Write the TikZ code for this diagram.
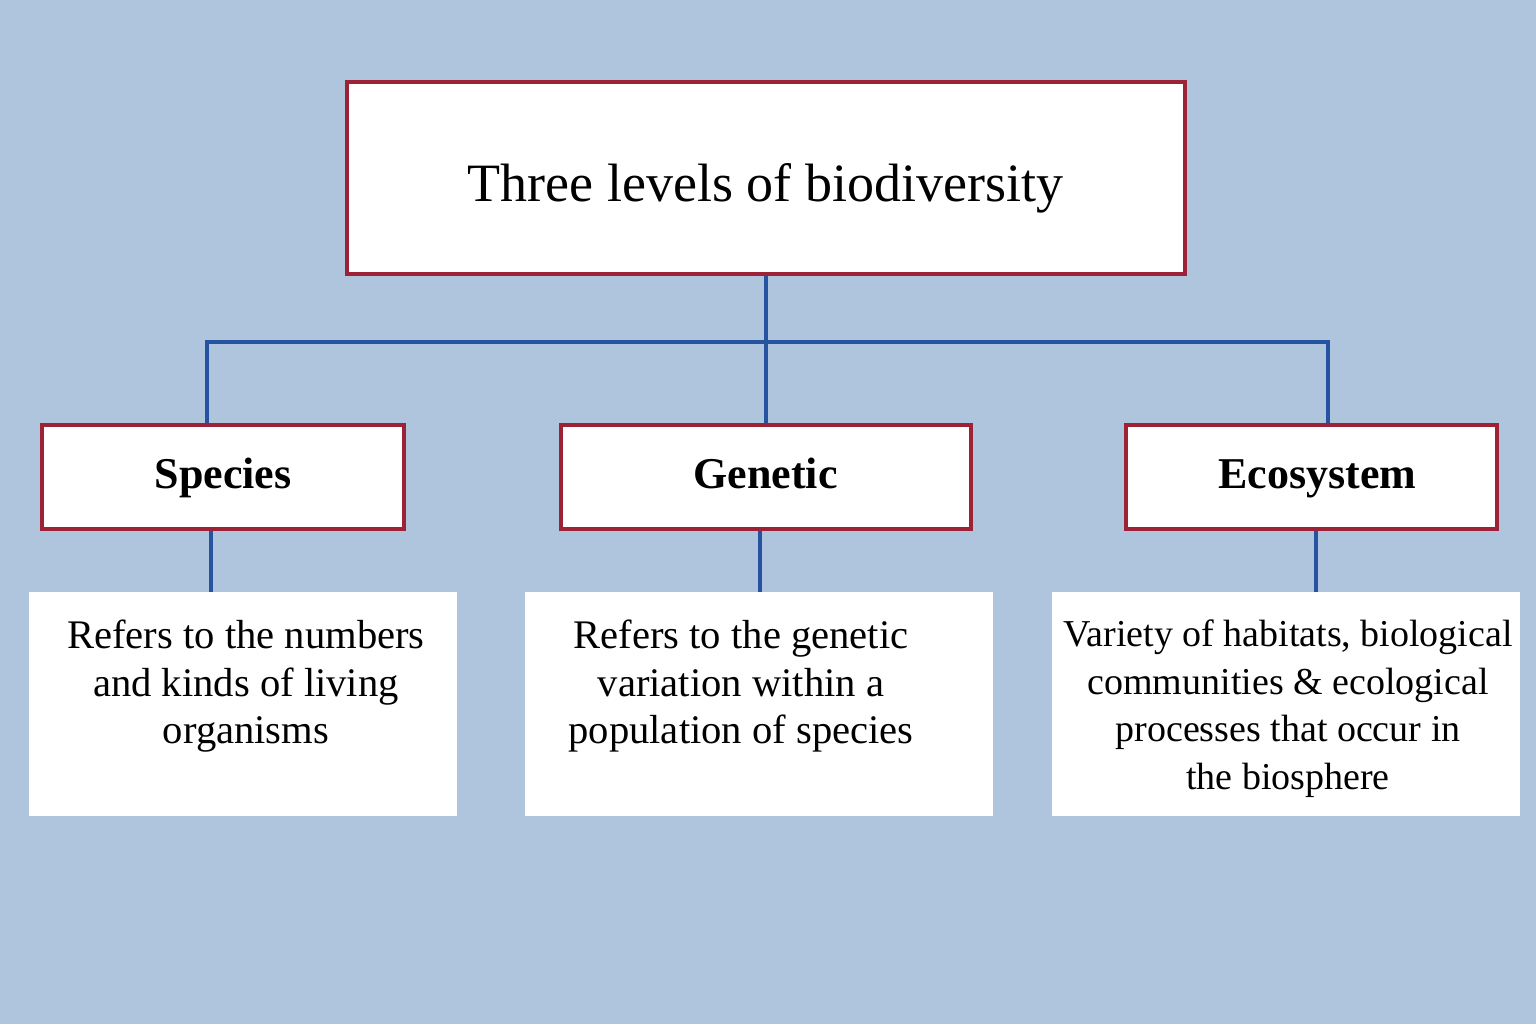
\documentclass[tikz,border=0pt]{standalone}
\usepackage{fontspec}
\setmainfont{Liberation Serif}
\usetikzlibrary{positioning, calc, backgrounds}

\definecolor{bgblue}{HTML}{AFC4DD}
\definecolor{framered}{HTML}{9E2236}
\definecolor{branchblue}{HTML}{2553A0}

\tikzset{
  titlebox/.style = {draw=framered, line width=2pt, fill=white, minimum height=96pt, text height=23pt, text depth=0pt, font=\fontsize{27}{32}\selectfont},
  levelbox/.style = {draw=framered, line width=2pt, fill=white, minimum height=52pt, text height=16pt, text depth=5pt, font=\fontsize{22}{26}\selectfont\bfseries},
  infobox/.style = {fill=white, inner xsep=2pt, inner ysep=14pt, minimum height=112pt, font=\fontsize{20.3}{23.75}\selectfont},
  branch/.style = {draw=branchblue, line width=2pt}
}
% #1 = sideways shift of the lines, #2 = width, #3 = text
\newcommand{\infotext}[3][0pt]{\parbox[t][84pt][t]{#2}{\centering
  \advance\leftskip by #1\advance\rightskip by -#1 #3}}

\begin{document}
\begin{tikzpicture}[x=0.5pt, y=-0.5pt]
  \useasboundingbox (0,0) rectangle (1536,1024);

  % top box
  \node[titlebox, minimum width=419pt] (title) at (765.5,178) {Three levels of biodiversity};

  % the three levels
  \node[levelbox, minimum width=181pt] (species) at (223,477) {Species};
  \node[levelbox, minimum width=205pt] (genetic) at (765.5,477) {Genetic};
  \node[levelbox, minimum width=185.5pt] (ecosystem) at (1311.5,477) {\hspace*{6pt}Ecosystem};

  % descriptions
  \node[infobox, minimum width=214pt] (speciesinfo) at (243,704)
    {\infotext[1.5pt]{210pt}{Refers to the numbers\\ and kinds of living\\ organisms}};
  \node[infobox, minimum width=234pt] (geneticinfo) at (759,704)
    {\infotext[-9pt]{230pt}{Refers to the genetic\\ variation within a\\ population of species}};
  \node[infobox, minimum width=234pt, font=\fontsize{19}{23.75}\selectfont] (ecosysteminfo) at (1286,704)
    {\infotext[1pt]{230pt}{Variety of habitats, biological\\ communities \& ecological\\ processes that occur in\\ the biosphere}};

  \coordinate (junction) at (765.5,342);

  \begin{scope}[on background layer]
    \fill[bgblue] (0,0) rectangle (1536,1024);
    \draw[branch] (title.south) -- (genetic.north);
    \draw[branch] ([xshift=-8pt]species.north) |- (junction) -| ([xshift=8pt]ecosystem.north);
    \draw[branch] ([xshift=-6pt]species.south) -- ([xshift=-6pt]species.south |- speciesinfo.north);
    \draw[branch] ([xshift=-3pt]genetic.south) -- ([xshift=-3pt]genetic.south |- geneticinfo.north);
    \draw[branch] ([xshift=2pt]ecosystem.south) -- ([xshift=2pt]ecosystem.south |- ecosysteminfo.north);
  \end{scope}
\end{tikzpicture}
\end{document}
